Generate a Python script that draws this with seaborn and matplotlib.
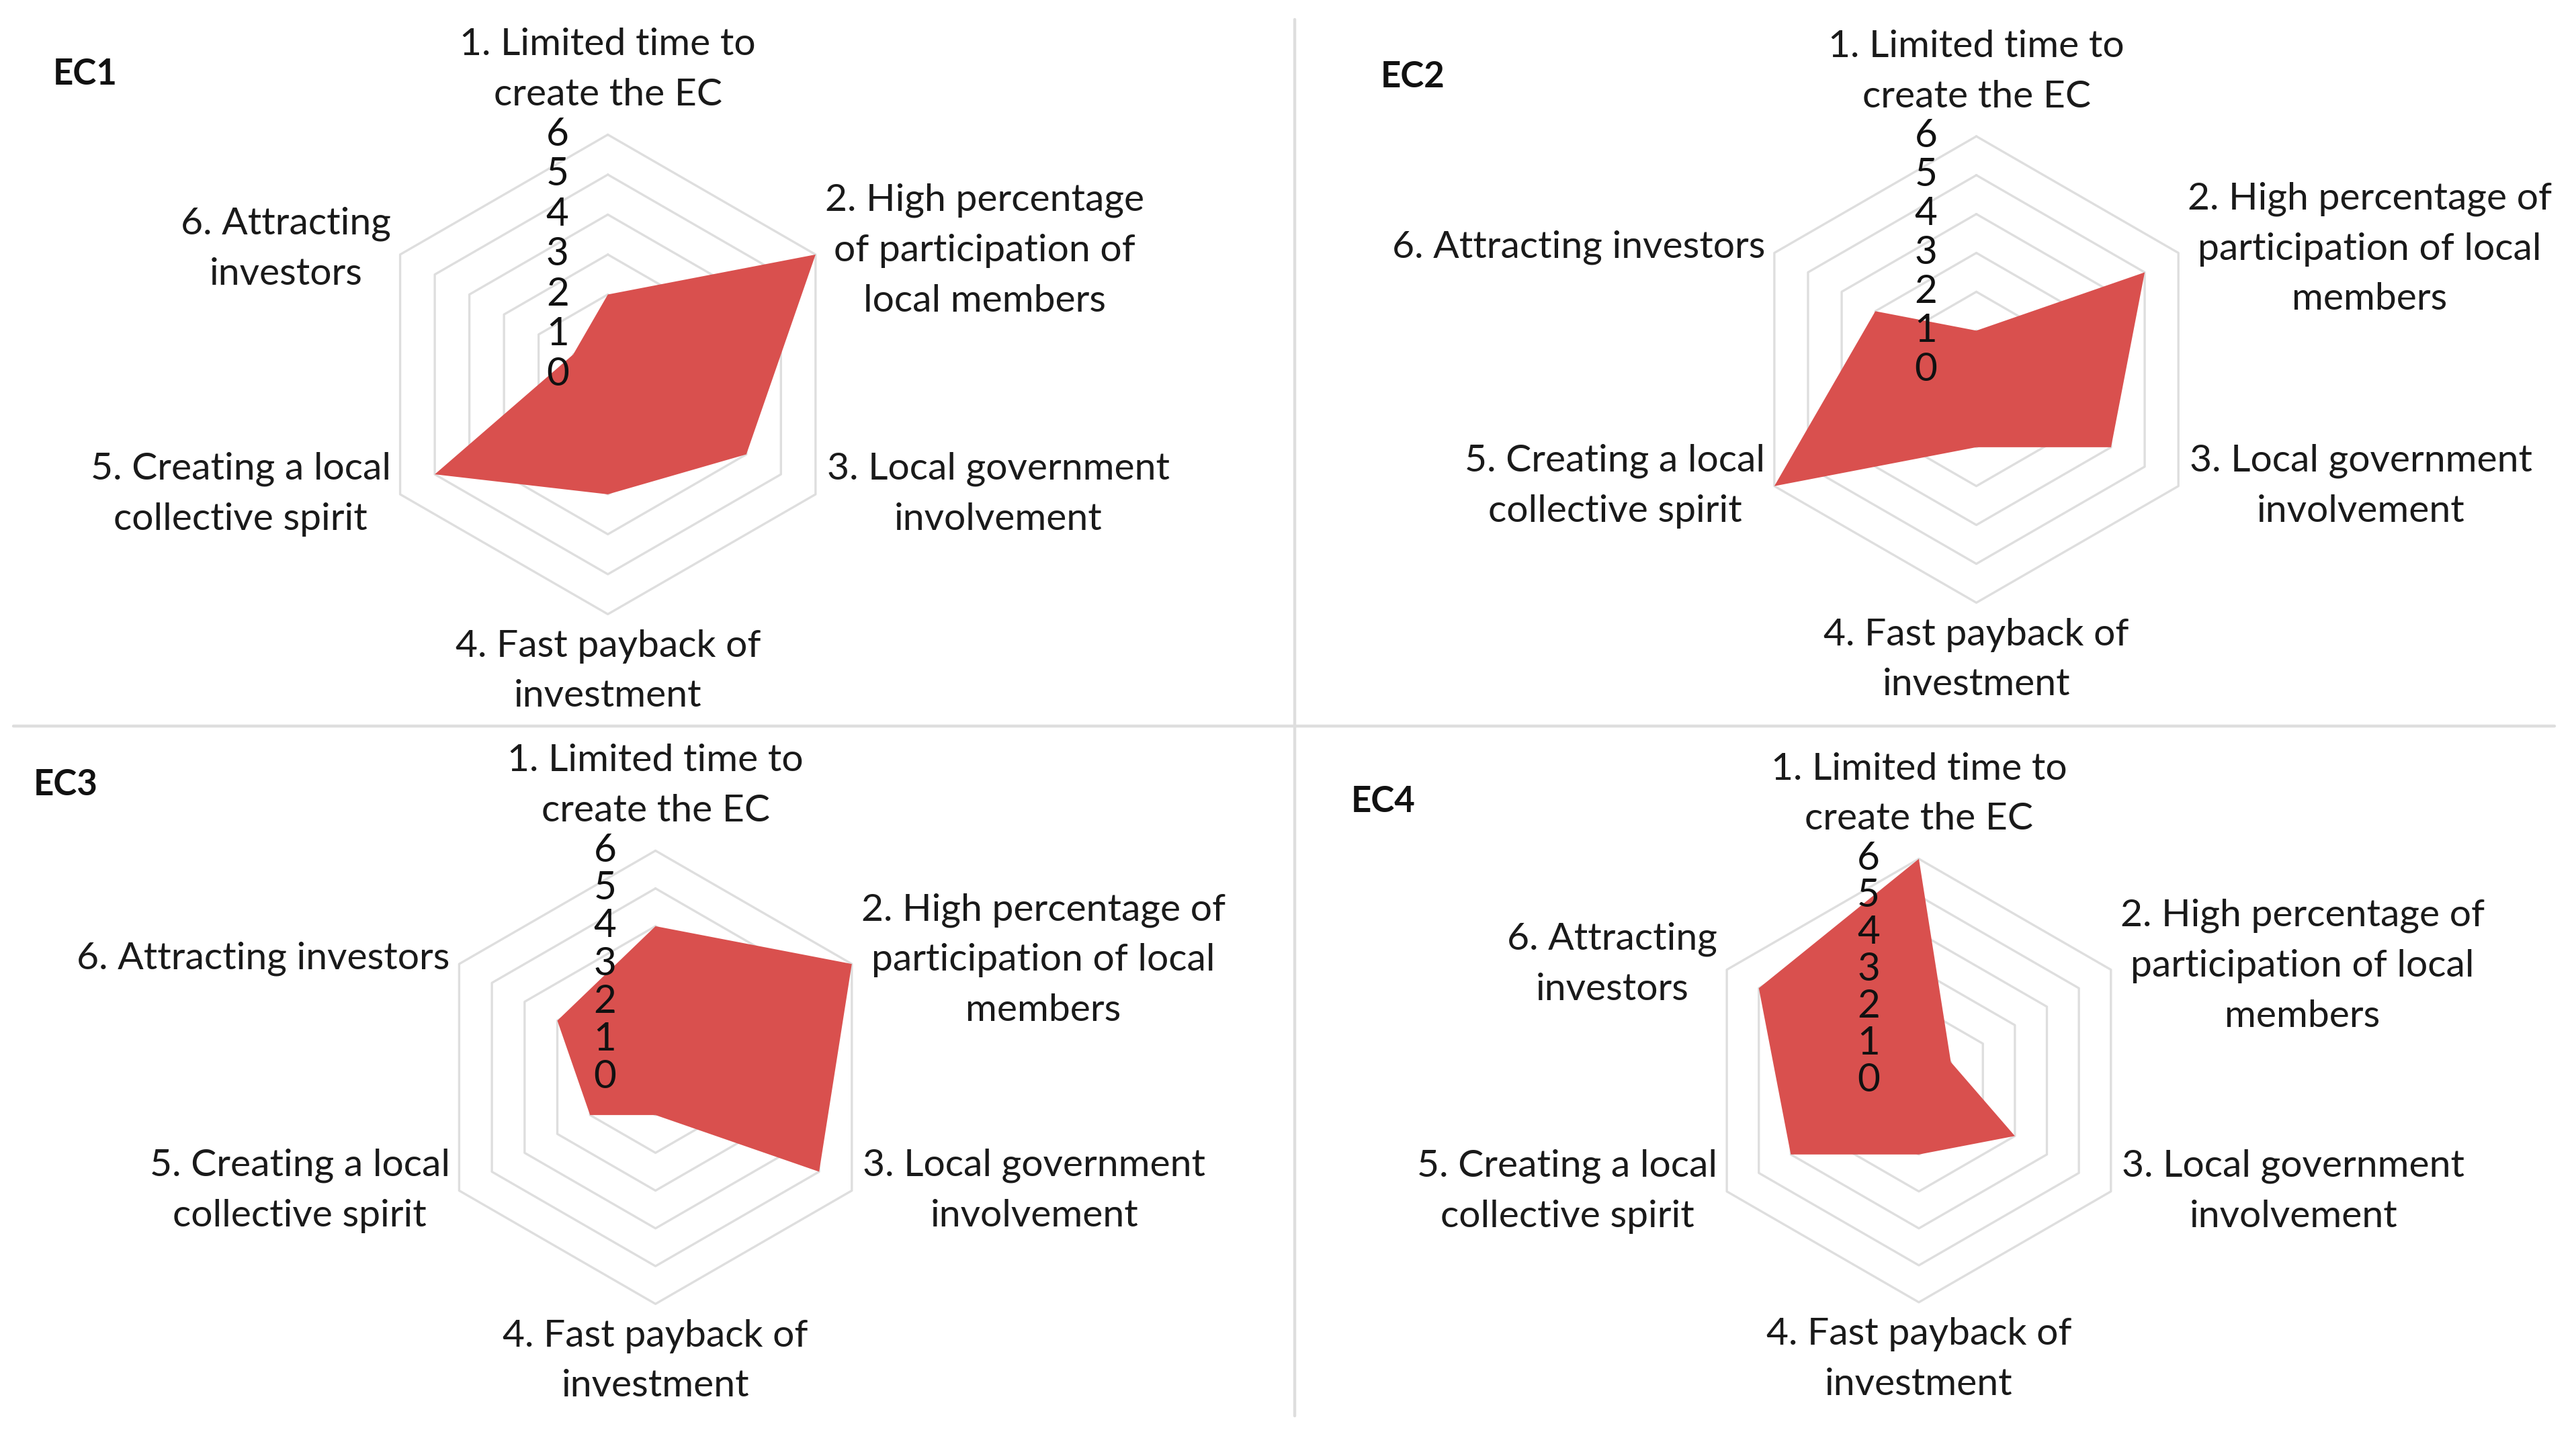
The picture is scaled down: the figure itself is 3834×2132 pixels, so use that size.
import numpy as np
import matplotlib
matplotlib.use('Agg')
import matplotlib.pyplot as plt
import seaborn as sns
from matplotlib.lines import Line2D

sns.set_theme(style='white')
plt.rcParams['font.family'] = ['Lato', 'DejaVu Sans']

# Scores for each energy community on the six criteria (0-6 scale)
ec1 = [2, 6, 4, 3, 5, 1]
ec2 = [1, 5, 4, 2, 6, 3]
ec3 = [4, 6, 5, 1, 2, 3]
ec4 = [6, 1, 3, 2, 4, 5]

titles = ['EC1', 'EC2', 'EC3', 'EC4']
ticks = [0, 1, 2, 3, 4, 5, 6]

# category labels (wrapping differs a little between the four charts)
labels_ec1 = ['1. Limited time to\ncreate the EC',
              '2. High percentage\nof participation of\nlocal members',
              '3. Local government\ninvolvement',
              '4. Fast payback of\ninvestment',
              '5. Creating a local\ncollective spirit',
              '6. Attracting\ninvestors']
labels_ec2 = ['1. Limited time to\ncreate the EC',
              '2. High percentage of\nparticipation of local\nmembers',
              '3. Local government\ninvolvement',
              '4. Fast payback of\ninvestment',
              '5. Creating a local\ncollective spirit',
              '6. Attracting investors']
labels_ec3 = labels_ec2
labels_ec4 = ['1. Limited time to\ncreate the EC',
              '2. High percentage of\nparticipation of local\nmembers',
              '3. Local government\ninvolvement',
              '4. Fast payback of\ninvestment',
              '5. Creating a local\ncollective spirit',
              '6. Attracting\ninvestors']

all_values = [ec1, ec2, ec3, ec4]
all_labels = [labels_ec1, labels_ec2, labels_ec3, labels_ec4]

# layout in reference pixels (1568 x 872 scale): center x, center y, outer radius
W, H = 1568, 872
layout = [(370, 228, 146), (1203, 225, 142), (399, 656, 138), (1168, 658, 135)]
title_pos = [(52, 45), (860, 47), (40, 478), (842, 488)]

fill_color = '#D9504E'
grid_color = '#DEDEDE'

# label offsets in points: (dx, dy, ha, va)
lab_off = [(0, 12, 'center', 'bottom'),
           (5, 2, 'left', 'center'),
           (6, 0, 'left', 'center'),
           (0, -8, 'center', 'top'),
           (-5, 0, 'right', 'center'),
           (-5, 3, 'right', 'center')]

fig = plt.figure(figsize=(19.17, 10.66), dpi=200)
n = 6
angles = np.linspace(0, 2 * np.pi, n, endpoint=False)
ang_closed = np.concatenate([angles, angles[:1]])

for k in range(4):
    cx, cy, r = layout[k]
    rect = [(cx - r) / W, 1 - (cy + r) / H, 2 * r / W, 2 * r / H]
    ax = fig.add_axes(rect, projection='polar')
    ax.set_theta_offset(np.pi / 2)
    ax.set_theta_direction(-1)
    ax.set_ylim(0, 6)
    ax.grid(False)
    ax.spines['polar'].set_visible(False)
    ax.set_xticks([])
    ax.set_yticks([])
    ax.set_facecolor('none')

    # hexagonal rings
    for t in ticks[1:]:
        ax.plot(ang_closed, [t] * (n + 1), color=grid_color, lw=1.2, zorder=1, clip_on=False)

    vals = all_values[k]
    vals_closed = vals + vals[:1]
    ax.fill(ang_closed, vals_closed, color=fill_color, lw=0, zorder=2, clip_on=False)

    # radial tick labels along the top axis
    for t in ticks:
        ax.annotate(str(t), xy=(0, t), xytext=(-27, 0), textcoords='offset points',
                    ha='center', va='center', fontsize=21, color='#111111', zorder=3,
                    annotation_clip=False)

    # category labels
    for i in range(n):
        dx, dy, ha, va = lab_off[i]
        ax.annotate(all_labels[k][i], xy=(angles[i], 6), xytext=(dx, dy),
                    textcoords='offset points', ha=ha, va=va, multialignment='center',
                    fontsize=20.5, color='#1a1a1a', linespacing=1.58, annotation_clip=False)

    tx, ty = title_pos[k]
    fig.text(tx / W, 1 - ty / H, titles[k], ha='center', va='center',
             fontsize=19, fontweight='bold', color='#111111')

# separators between panels
fig.add_artist(Line2D([788 / W, 788 / W], [1 - 12 / H, 1 - 862 / H],
                      color=grid_color, lw=1.6, transform=fig.transFigure))
fig.add_artist(Line2D([8 / W, 1555 / W], [1 - 442 / H, 1 - 442 / H],
                      color=grid_color, lw=1.6, transform=fig.transFigure))

fig.savefig('out.png', dpi=200, facecolor='white')
